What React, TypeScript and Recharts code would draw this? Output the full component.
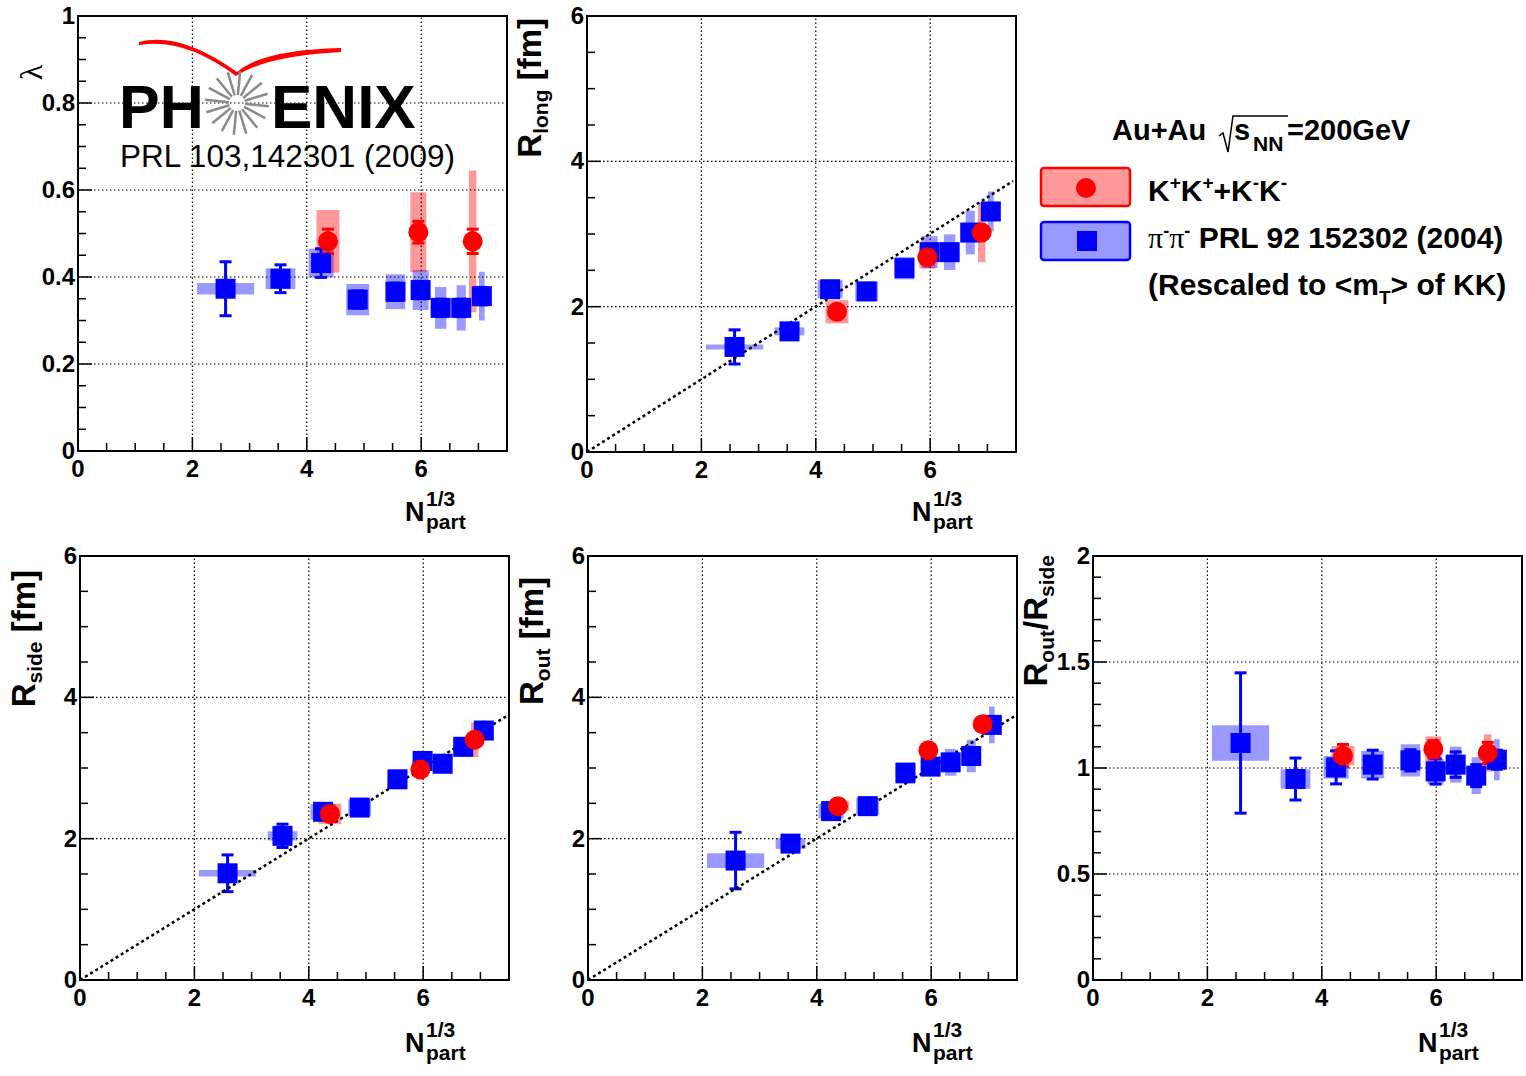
import React from "react";
import {
  ScatterChart,
  XAxis,
  YAxis,
  Scatter,
  ErrorBar,
  ReferenceArea,
  ReferenceLine,
} from "recharts";

const FONT = '"Liberation Sans", Arial, Helvetica, sans-serif';
const BLUE = "#0000ff";
const RED = "#ff0000";

// N_part^{1/3} bin centres and horizontal systematic half-widths
const piNpart = [2.58, 3.54, 4.25, 4.89, 5.55, 5.99, 6.34, 6.7, 7.06];
const piNpartSys = [0.5, 0.26, 0.22, 0.2, 0.17, 0.14, 0.1, 0.08, 0.05];
const kNpart = [4.37, 5.95, 6.9];
const kNpartSys = [0.2, 0.14, 0.065];

// lambda
const lambdaPi = [0.373, 0.396, 0.432, 0.348, 0.366, 0.37, 0.329, 0.329, 0.356];
const lambdaPiStat = [0.062, 0.032, 0.033, 0.02, 0.02, 0.02, 0.02, 0.02, 0.02];
const lambdaPiSys = [0.013, 0.024, 0.033, 0.036, 0.04, 0.046, 0.048, 0.052, 0.056];
const lambdaK = [0.482, 0.503, 0.482];
const lambdaKStat = [0.028, 0.025, 0.028];
const lambdaKSys = [0.072, 0.092, 0.163];

// R_long [fm]
const rlongPi = [1.446, 1.66, 2.24, 2.21, 2.53, 2.75, 2.75, 3.02, 3.31];
const rlongPiStat = [0.235, 0.06, 0.07, 0.05, 0.05, 0.05, 0.05, 0.05, 0.05];
const rlongPiSys = [0.035, 0.055, 0.125, 0.135, 0.155, 0.22, 0.245, 0.3, 0.275];
const rlongK = [1.93, 2.68, 3.02];
const rlongKStat = [0.05, 0.06, 0.06];
const rlongKSys = [0.16, 0.155, 0.41];

// R_side [fm]
const rsidePi = [1.51, 2.04, 2.38, 2.44, 2.84, 3.1, 3.06, 3.3, 3.53];
const rsidePiStat = [0.26, 0.165, 0.06, 0.05, 0.05, 0.05, 0.05, 0.05, 0.05];
const rsidePiSys = [0.045, 0.065, 0.11, 0.115, 0.12, 0.13, 0.13, 0.14, 0.14];
const rsideK = [2.35, 2.98, 3.4];
const rsideKStat = [0.06, 0.06, 0.06];
const rsideKSys = [0.145, 0.105, 0.245];

// R_out [fm]
const routPi = [1.69, 1.93, 2.39, 2.46, 2.93, 3.02, 3.08, 3.17, 3.61];
const routPiStat = [0.4, 0.1, 0.07, 0.06, 0.06, 0.06, 0.06, 0.06, 0.06];
const routPiSys = [0.105, 0.075, 0.105, 0.12, 0.155, 0.135, 0.19, 0.23, 0.26];
const routK = [2.46, 3.25, 3.62];
const routKStat = [0.08, 0.08, 0.06];
const routKSys = [0.07, 0.08, 0.08];

// R_out / R_side
const ratioPi = [1.118, 0.948, 1.003, 1.016, 1.036, 0.984, 1.016, 0.964, 1.039];
const ratioPiStat = [0.331, 0.099, 0.078, 0.068, 0.05, 0.06, 0.06, 0.052, 0.045];
const ratioPiSys = [0.084, 0.046, 0.053, 0.065, 0.076, 0.061, 0.085, 0.087, 0.097];
const ratioK = [1.058, 1.089, 1.071];
const ratioKStat = [0.053, 0.04, 0.05];
const ratioKSys = [0.046, 0.06, 0.088];

// dotted R ~ N_part^{1/3} scaling line
const scalingLine = [
  { x: 0, y: 0 },
  { x: 7.45, y: 3.73 },
];

// axis ticks
const xTicks = [0, 0.5, 1, 1.5, 2, 2.5, 3, 3.5, 4, 4.5, 5, 5.5, 6, 6.5, 7];
const xLabels = [0, 2, 4, 6];
const lambdaTicks = [
  0, 0.05, 0.1, 0.15, 0.2, 0.25, 0.3, 0.35, 0.4, 0.45, 0.5, 0.55, 0.6, 0.65,
  0.7, 0.75, 0.8, 0.85, 0.9, 0.95, 1,
];
const lambdaLabels = [0, 0.2, 0.4, 0.6, 0.8, 1];
const radiusTicks = [0, 0.5, 1, 1.5, 2, 2.5, 3, 3.5, 4, 4.5, 5, 5.5, 6];
const radiusLabels = [0, 2, 4, 6];
const ratioTicks = [
  0, 0.1, 0.2, 0.3, 0.4, 0.5, 0.6, 0.7, 0.8, 0.9, 1, 1.1, 1.2, 1.3, 1.4, 1.5,
  1.6, 1.7, 1.8, 1.9, 2,
];
const ratioLabels = [0, 0.5, 1, 1.5, 2];

type Pt = { x: number; y: number; stat: number; dx: number; dy: number };

const toPoints = (
  xs: number[],
  dxs: number[],
  ys: number[],
  stat: number[],
  sys: number[]
): Pt[] =>
  xs.map((x, i) => ({ x, y: ys[i], stat: stat[i], dx: dxs[i], dy: sys[i] }));

const tickText: React.CSSProperties = {
  fontFamily: FONT,
  fontWeight: "bold",
  fontSize: 24,
};

const xTick = (props: any) => {
  const { x, y, payload } = props;
  const v = payload.value;
  const major = xLabels.includes(v);
  return (
    <g>
      <line x1={x} y1={y} x2={x} y2={y - (major ? 14 : 8)} stroke="#000" strokeWidth={1.5} />
      {major ? (
        <text x={x} y={y + 26} textAnchor="middle" style={tickText} fill="#000">
          {v}
        </text>
      ) : null}
    </g>
  );
};

const makeYTick = (labels: number[]) => (props: any) => {
  const { x, y, payload } = props;
  const v = payload.value;
  const major = labels.includes(v);
  return (
    <g>
      <line x1={x} y1={y} x2={x + (major ? 14 : 8)} y2={y} stroke="#000" strokeWidth={1.5} />
      {major ? (
        <text x={x - 3} y={y + 8} textAnchor="end" style={tickText} fill="#000">
          {v}
        </text>
      ) : null}
    </g>
  );
};

const PiSquare = (props: any) => (
  <rect x={props.cx - 10} y={props.cy - 10} width={20} height={20} fill={BLUE} />
);
const KCircle = (props: any) => <circle cx={props.cx} cy={props.cy} r={10} fill={RED} />;
const NoMark = () => <g />;

type PanelProps = {
  left: number;
  top: number;
  width: number;
  plotH: number;
  yMax: number;
  yTicks: number[];
  yLabels: number[];
  pi: Pt[];
  k: Pt[];
  scaling?: boolean;
};

function Panel({ left, top, width, plotH, yMax, yTicks, yLabels, pi, k, scaling }: PanelProps) {
  const height = 500;
  // axes are 1px thick so that the plot area starts at x=78, y=16
  const margin = { top: 16, left: 77, right: width - 78 - 429, bottom: height - 16 - plotH - 1 };
  return (
    <div style={{ position: "absolute", left, top }}>
      <ScatterChart width={width} height={height} margin={margin}>
        <XAxis
          type="number"
          dataKey="x"
          domain={[0, 7.5]}
          ticks={xTicks}
          interval={0}
          allowDataOverflow
          height={1}
          axisLine={false}
          tickLine={false}
          tickSize={0}
          tickMargin={0}
          tick={xTick}
        />
        <YAxis
          type="number"
          dataKey="y"
          domain={[0, yMax]}
          ticks={yTicks}
          interval={0}
          allowDataOverflow
          width={1}
          axisLine={false}
          tickLine={false}
          tickSize={0}
          tickMargin={0}
          tick={makeYTick(yLabels)}
        />
        {xLabels
          .filter((v) => v > 0)
          .map((v) => (
            <ReferenceLine key={"gx" + v} x={v} stroke="#000" strokeWidth={1.2} strokeDasharray="1.5 2.5" />
          ))}
        {yLabels
          .filter((v) => v > 0 && v < yMax)
          .map((v) => (
            <ReferenceLine key={"gy" + v} y={v} stroke="#000" strokeWidth={1.2} strokeDasharray="1.5 2.5" />
          ))}
        {pi.map((p, i) => (
          <ReferenceArea
            key={"pb" + i}
            x1={p.x - p.dx}
            x2={p.x + p.dx}
            y1={p.y - p.dy}
            y2={p.y + p.dy}
            fill={BLUE}
            fillOpacity={0.4}
            stroke="none"
          />
        ))}
        {k.map((p, i) => (
          <ReferenceArea
            key={"kb" + i}
            x1={p.x - p.dx}
            x2={p.x + p.dx}
            y1={p.y - p.dy}
            y2={p.y + p.dy}
            fill={RED}
            fillOpacity={0.4}
            stroke="none"
          />
        ))}
        <ReferenceArea x1={0} x2={7.5} y1={0} y2={yMax} fill="none" stroke="#000" strokeWidth={2} />
        {scaling ? (
          <Scatter
            data={scalingLine}
            line={{ stroke: "#000", strokeWidth: 2.5, strokeDasharray: "3 3" }}
            shape={NoMark}
            isAnimationActive={false}
          />
        ) : null}
        <Scatter data={pi} shape={PiSquare} isAnimationActive={false}>
          <ErrorBar dataKey="stat" direction="y" width={6} strokeWidth={3} stroke={BLUE} />
        </Scatter>
        <Scatter data={k} shape={KCircle} isAnimationActive={false}>
          <ErrorBar dataKey="stat" direction="y" width={6} strokeWidth={3} stroke={RED} />
        </Scatter>
      </ScatterChart>
    </div>
  );
}

const bold = { fontFamily: FONT, fontWeight: "bold" as const, fill: "#000" };

function NpartTitle({ x, y }: { x: number; y: number }) {
  return (
    <g>
      <text x={x} y={y} fontSize={27} style={bold}>N</text>
      <text x={x + 21} y={y - 15} fontSize={21} style={bold}>1/3</text>
      <text x={x + 21} y={y + 8} fontSize={21} style={bold}>part</text>
    </g>
  );
}

function YTitle({ x, y, main, sub, tail, sub2 }: { x: number; y: number; main: string; sub: string; tail: string; sub2?: string }) {
  return (
    <text transform={`translate(${x},${y}) rotate(-90)`} textAnchor="end" fontSize={33} style={bold}>
      {main}
      <tspan dy={7} fontSize={21}>{sub}</tspan>
      <tspan dy={-7}>{tail}</tspan>
      {sub2 ? <tspan dy={7} fontSize={21}>{sub2}</tspan> : null}
    </text>
  );
}

function Logo() {
  const spokes = [0, 1, 2, 3, 4, 5, 6, 7, 8, 9, 10, 11, 12, 13, 14, 15];
  return (
    <g>
      <path
        d="M139,42 Q180,31 237,72 Q262,50 341,48 L341,52 Q266,56 236,76 Q184,37 139,45 Z"
        fill={RED}
      />
      <text x={119} y={128} fontSize={61} style={bold}>PH</text>
      <g stroke="#8a8a8a" strokeWidth={2.5}>
        {spokes.map((s) => {
          const a = (s * Math.PI) / 8 + 0.1;
          return (
            <line
              key={s}
              x1={237 + 8 * Math.cos(a)}
              y1={103 + 8 * Math.sin(a)}
              x2={237 + 32 * Math.cos(a)}
              y2={103 + 32 * Math.sin(a)}
            />
          );
        })}
      </g>
      <text x={271} y={128} fontSize={62} style={bold}>ENIX</text>
      <text x={120} y={167} fontSize={31.5} fontFamily={FONT} fill="#000">
        PRL 103,142301 (2009)
      </text>
    </g>
  );
}

function Legend() {
  return (
    <g>
      <text x={1112} y={140} fontSize={29} style={bold}>Au+Au</text>
      <path d="M1219,136 L1223,133 L1228,152 L1233,116 L1288,116" fill="none" stroke="#000" strokeWidth={1.5} />
      <text x={1234} y={140} fontSize={29} style={bold}>s</text>
      <text x={1253} y={151} fontSize={21} style={bold}>NN</text>
      <text x={1287} y={140} fontSize={29} style={bold}>=200GeV</text>

      <rect x={1041} y={168} width={89} height={38} rx={3} fill="#ff9999" stroke={RED} strokeWidth={2.5} />
      <circle cx={1086} cy={188} r={10} fill={RED} />
      <rect x={1041} y={222} width={89} height={38} rx={3} fill="#9999ff" stroke={BLUE} strokeWidth={2.5} />
      <rect x={1077} y={231} width={20} height={20} fill={BLUE} />

      <text x={1148} y={201} fontSize={30} style={bold}>
        K<tspan dy={-12} fontSize={19}>+</tspan>
        <tspan dy={12}>K</tspan>
        <tspan dy={-12} fontSize={19}>+</tspan>
        <tspan dy={12}>+K</tspan>
        <tspan dy={-12} fontSize={19}>-</tspan>
        <tspan dy={12}>K</tspan>
        <tspan dy={-12} fontSize={19}>-</tspan>
      </text>
      <text x={1148} y={248} fontSize={30} style={bold}>
        <tspan fontWeight="normal" fontFamily='"Liberation Serif", serif'>π</tspan>
        <tspan dy={-11} fontSize={18}>-</tspan>
        <tspan dy={11} fontWeight="normal" fontFamily='"Liberation Serif", serif'>π</tspan>
        <tspan dy={-11} fontSize={18}>-</tspan>
        <tspan dy={11}> PRL 92 152302 (2004)</tspan>
      </text>
      <text x={1148} y={295} fontSize={30} style={bold}>
        (Rescaled to &lt;m<tspan dy={9} fontSize={19}>T</tspan>
        <tspan dy={-9}>&gt; of KK)</tspan>
      </text>
    </g>
  );
}

export default function App() {
  const lambdaPts = toPoints(piNpart, piNpartSys, lambdaPi, lambdaPiStat, lambdaPiSys);
  const lambdaKPts = toPoints(kNpart, kNpartSys, lambdaK, lambdaKStat, lambdaKSys);
  const rlongPts = toPoints(piNpart, piNpartSys, rlongPi, rlongPiStat, rlongPiSys);
  const rlongKPts = toPoints(kNpart, kNpartSys, rlongK, rlongKStat, rlongKSys);
  const rsidePts = toPoints(piNpart, piNpartSys, rsidePi, rsidePiStat, rsidePiSys);
  const rsideKPts = toPoints(kNpart, kNpartSys, rsideK, rsideKStat, rsideKSys);
  const routPts = toPoints(piNpart, piNpartSys, routPi, routPiStat, routPiSys);
  const routKPts = toPoints(kNpart, kNpartSys, routK, routKStat, routKSys);
  const ratioPts = toPoints(piNpart, piNpartSys, ratioPi, ratioPiStat, ratioPiSys);
  const ratioKPts = toPoints(kNpart, kNpartSys, ratioK, ratioKStat, ratioKSys);

  return (
    <div
      style={{
        position: "absolute",
        left: 0,
        top: 0,
        width: 1526,
        height: 1076,
        overflow: "hidden",
        background: "#fff",
      }}
    >
      <Panel left={0} top={0} width={515} plotH={435} yMax={1} yTicks={lambdaTicks} yLabels={lambdaLabels} pi={lambdaPts} k={lambdaKPts} />
      <Panel left={509} top={0} width={515} plotH={436} yMax={6} yTicks={radiusTicks} yLabels={radiusLabels} pi={rlongPts} k={rlongKPts} scaling />
      <Panel left={2} top={540} width={515} plotH={424} yMax={6} yTicks={radiusTicks} yLabels={radiusLabels} pi={rsidePts} k={rsideKPts} scaling />
      <Panel left={510} top={540} width={515} plotH={424} yMax={6} yTicks={radiusTicks} yLabels={radiusLabels} pi={routPts} k={routKPts} scaling />
      <Panel left={1015} top={540} width={510} plotH={424} yMax={2} yTicks={ratioTicks} yLabels={ratioLabels} pi={ratioPts} k={ratioKPts} />

      <svg width={1526} height={1076} style={{ position: "absolute", left: 0, top: 0, pointerEvents: "none" }}>
        <Logo />
        <Legend />

        <text transform="translate(42,80) rotate(-90)" fontSize={32} fontFamily='"Liberation Serif", serif' fill="#000">
          λ
        </text>
        <YTitle x={541} y={18} main="R" sub="long" tail=" [fm]" />
        <YTitle x={35} y={570} main="R" sub="side" tail=" [fm]" />
        <YTitle x={543} y={577} main="R" sub="out" tail=" [fm]" />
        <YTitle x={1047} y={555} main="R" sub="out" tail="/R" sub2="side" />

        <NpartTitle x={405} y={521} />
        <NpartTitle x={912} y={521} />
        <NpartTitle x={405} y={1052} />
        <NpartTitle x={912} y={1052} />
        <NpartTitle x={1418} y={1052} />
      </svg>
    </div>
  );
}
